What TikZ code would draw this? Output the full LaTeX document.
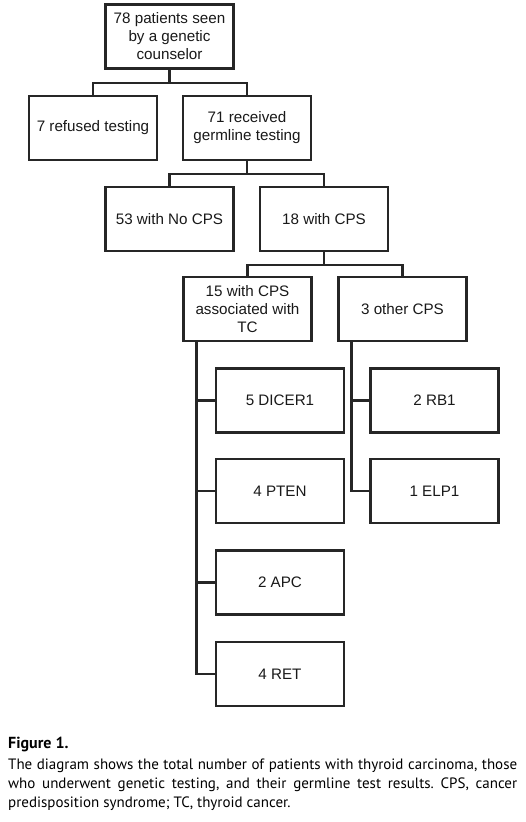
\documentclass[tikz,border=0pt]{standalone}
\usepackage{fontspec}
\setmainfont{Liberation Sans}
\newfontfamily\capfont{PT Sans}
\usetikzlibrary{positioning}
\frenchspacing

\begin{document}
\begin{tikzpicture}[
  x=1pt, y=-1pt,
  font=\fontsize{15.2}{18}\selectfont,
  box/.style={
    rectangle, draw=black!85, line width=2.2pt, fill=white,
    minimum width=128pt, minimum height=64pt, align=center,
    inner sep=2pt, text=black!90
  },
  link/.style={black!85, line width=2.2pt},
  caption/.style={
    anchor=north west, inner sep=0pt, text width=509pt,
    align=justify, font=\capfont\fontsize{15}{19}\selectfont
  },
]

\useasboundingbox (0,0) rectangle (525,822);

% Counselling
\node[box] (seen) at (169.5, 36.5) {78 patients seen\\by a genetic\\counselor};

% Testing
\node[box] (refused)  at (93,  128) {7 refused testing};
\node[box] (received) at (247, 128) {71 received\\germline testing};

% Results
\node[box] (nocps) at (169.5, 219) {53 with No CPS};
\node[box] (cps)   at (324,   219) {18 with CPS};

% CPS groups
\node[box] (tc)    at (247.5, 309) {15 with CPS\\associated with\\TC};
\node[box] (other) at (402.5, 309) {3 other CPS};

% Genes
\node[box] (dicer) at (280, 400.5) {5 DICER1};
\node[box] (pten)  at (280, 491)   {4 PTEN};
\node[box] (apc)   at (280, 582.5) {2 APC};
\node[box] (ret)   at (280, 674)   {4 RET};
\node[box] (rb)    at (434.5, 400.5) {2 RB1};
\node[box] (elp)   at (434.5, 491)   {1 ELP1};

% Tree links
\draw[link] (seen.south) -- ++(0,13) -| (refused.north);
\draw[link] (seen.south) -- ++(0,13) -| (received.north);
\draw[link] (received.south) -- ++(0,13) -| (nocps.north);
\draw[link] (received.south) -- ++(0,13) -| (cps.north);
\draw[link] (cps.south) -- ++(0,13) -| (tc.north);
\draw[link] (cps.south) -- ++(0,13) -| (other.north);

% Side branches
\coordinate (tcbar)    at ([xshift=14pt]tc.south west);
\coordinate (otherbar) at ([xshift=14pt]other.south west);
\draw[link] (tcbar) |- (dicer.west);
\draw[link] (tcbar) |- (pten.west);
\draw[link] (tcbar) |- (apc.west);
\draw[link] (tcbar) |- (ret.west);
\draw[link] (otherbar) |- (rb.west);
\draw[link] (otherbar) |- (elp.west);

% Caption
\node[caption, font=\capfont\bfseries\fontsize{16}{19}\selectfont] (caphead) at (8, 737) {Figure 1.};
\node[caption] (captext) at (8, 759) {The diagram shows the total number of patients with thyroid carcinoma, those\linebreak
who underwent genetic testing, and their germline test results. CPS, cancer\linebreak
predisposition syndrome; TC, thyroid cancer.};

\end{tikzpicture}
\end{document}
